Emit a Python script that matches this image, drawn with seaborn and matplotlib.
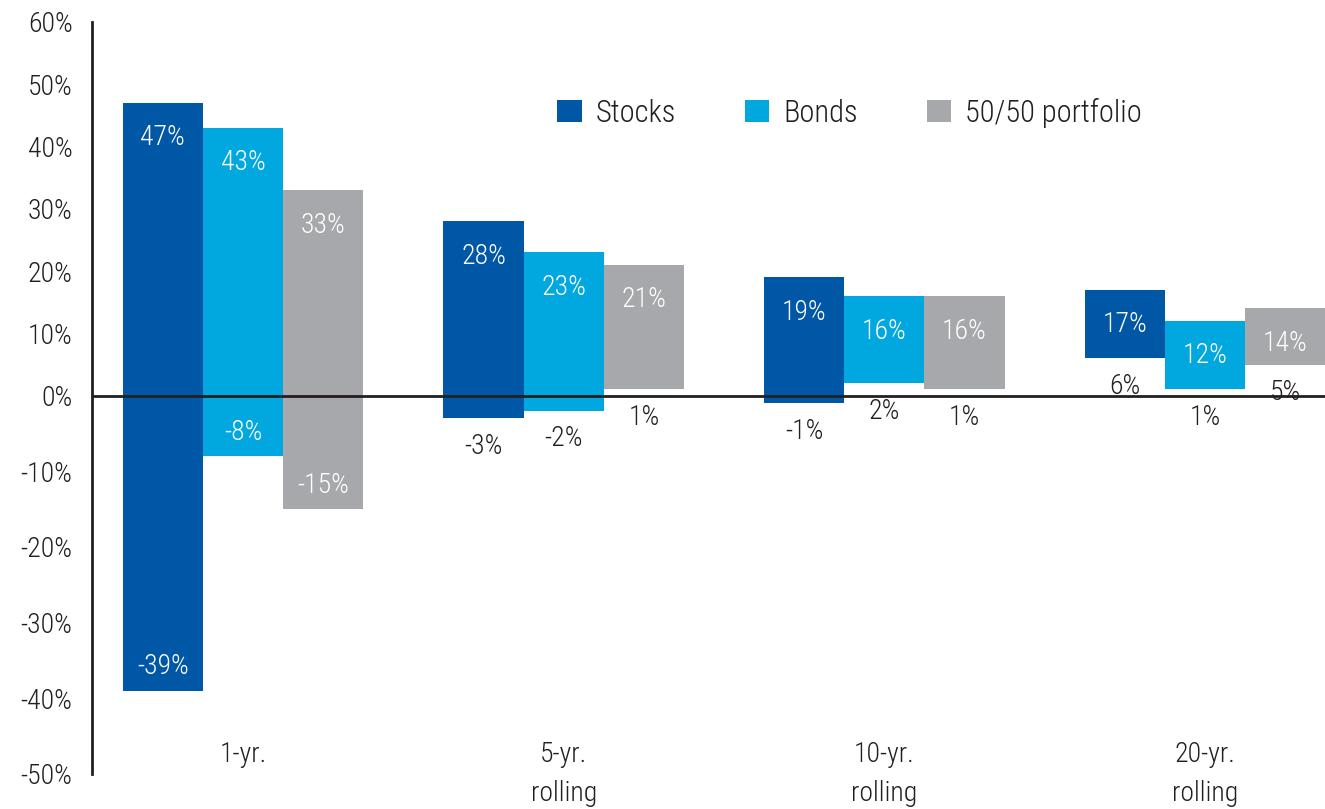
import numpy as np
import pandas as pd
import matplotlib
matplotlib.use("Agg")
import matplotlib.pyplot as plt
import seaborn as sns
from matplotlib import font_manager as fm

# ---------------- data ----------------
periods = ["1-yr.", "5-yr.\nrolling", "10-yr.\nrolling", "20-yr.\nrolling"]
series = ["Stocks", "Bonds", "50/50 portfolio"]
stocks_high = [47, 28, 19, 17]
stocks_low = [-39, -3, -1, 6]
bonds_high = [43, 23, 16, 12]
bonds_low = [-8, -2, 2, 1]
mix_high = [33, 21, 16, 14]
mix_low = [-15, 1, 1, 5]
y_ticks = [-50, -40, -30, -20, -10, 0, 10, 20, 30, 40, 50, 60]
colors = ["#0057A5", "#00A8DF", "#A7A8AB"]

highs = [stocks_high, bonds_high, mix_high]
lows = [stocks_low, bonds_low, mix_low]
rows = []
for s, hi, lo in zip(series, highs, lows):
    for p, h, l in zip(periods, hi, lo):
        rows.append({"period": p, "series": s, "high": h, "low": l})
df = pd.DataFrame(rows)

# ---------------- style ----------------
sns.set_style("white")
names = {f.name for f in fm.fontManager.ttflist}
family = "DejaVu Sans"
for cand in ["Liberation Sans Narrow", "Roboto Condensed", "DejaVu Sans Condensed",
             "Open Sans Condensed", "Liberation Sans"]:
    if cand in names:
        family = cand
        break
plt.rcParams["font.family"] = [family, "DejaVu Sans"]
plt.rcParams["font.weight"] = "light"
TXT = "#231f20"
FS = 20

fig = plt.figure(figsize=(13.25, 8.09), dpi=100)
ax = fig.add_axes([92 / 1325, 1 - 774 / 809, 1 - 92 / 1325, (774 - 22) / 809])

NEG = 1.215
def fwd(v):
    v = np.asarray(v, dtype=float)
    return np.where(v >= 0, v, v * NEG)
def inv(v):
    v = np.asarray(v, dtype=float)
    return np.where(v >= 0, v, v / NEG)
ax.set_yscale("function", functions=(fwd, inv))

sns.barplot(data=df, x="period", y="high", hue="series", order=periods,
            hue_order=series, palette=colors, saturation=1, width=0.75,
            errorbar=None, linewidth=0, ax=ax, zorder=2)

handles, labels = ax.get_legend_handles_labels()
if ax.get_legend() is not None:
    ax.get_legend().remove()

for j, cont in enumerate(ax.containers):
    for i, patch in enumerate(cont.patches):
        hi = highs[j][i]
        lo = lows[j][i]
        patch.set_y(lo)
        patch.set_height(hi - lo)
        cx = patch.get_x() + patch.get_width() / 2
        ax.annotate(f"{hi}%", xy=(cx, hi), xytext=(0, -35), textcoords="offset pixels",
                    ha="center", va="center", color="white", fontsize=FS, zorder=5)
        if lo < -5:
            ax.annotate(f"{lo}%", xy=(cx, lo), xytext=(0, 24), textcoords="offset pixels",
                        ha="center", va="center", color="white", fontsize=FS, zorder=5)
        else:
            ax.annotate(f"{lo}%", xy=(cx, lo), xytext=(0, -28), textcoords="offset pixels",
                        ha="center", va="center", color=TXT, fontsize=FS, zorder=5)

ax.axhline(0, color=TXT, lw=2, zorder=4)

ax.set_ylim(-50, 60)
ax.set_xlim(-0.471, 3.374)
ax.set_yticks(y_ticks)
ax.set_yticklabels([f"{t}%" for t in y_ticks])
ax.set_xlabel("")
ax.set_ylabel("")
ax.tick_params(axis="y", length=0, pad=14, labelsize=FS, labelcolor=TXT)
ax.tick_params(axis="x", length=0, pad=-24, labelsize=FS, labelcolor=TXT)
for lab in ax.get_xticklabels():
    lab.set_linespacing(1.6)

for side in ["top", "right", "bottom"]:
    ax.spines[side].set_visible(False)
ax.spines["left"].set_color(TXT)
ax.spines["left"].set_linewidth(2)

fig.legend(handles, labels, loc="center left", bbox_to_anchor=(542 / 1325, 1 - 113 / 809),
           bbox_transform=fig.transFigure, ncol=3, frameon=False, fontsize=22,
           handlelength=0.8, handleheight=0.72, handletextpad=0.46, columnspacing=2.25,
           borderpad=0, labelcolor=TXT)

fig.savefig("out.png", dpi=100)
